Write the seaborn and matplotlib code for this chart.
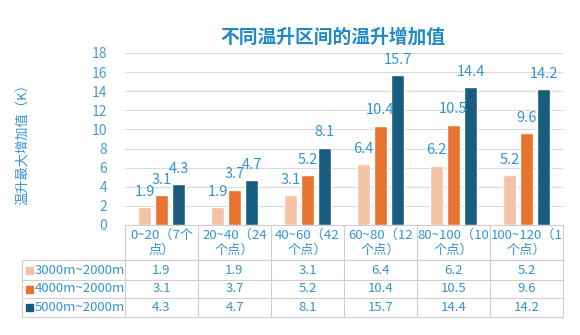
import matplotlib
matplotlib.use("Agg")
import matplotlib.pyplot as plt
import seaborn as sns
import pandas as pd
from matplotlib.patches import Rectangle
from matplotlib.lines import Line2D

categories = ["0~20（7个\n点）", "20~40（24\n个点）", "40~60（42\n个点）",
              "60~80（12\n个点）", "80~100（10\n个点）", "100~120（1\n个点）"]
series_names = ["3000m~2000m", "4000m~2000m", "5000m~2000m"]
s3000 = [1.9, 1.9, 3.1, 6.4, 6.2, 5.2]
s4000 = [3.1, 3.7, 5.2, 10.4, 10.5, 9.6]
s5000 = [4.3, 4.7, 8.1, 15.7, 14.4, 14.2]
yticks = [0, 2, 4, 6, 8, 10, 12, 14, 16, 18]
title = "不同温升区间的温升增加值"
ylabel = "温升最大增加值（K）"

colors = ["#f4c3a6", "#e8732f", "#185d80"]
txt = "#3594cf"
grid = "#d9d9d9"

sns.set_theme(style="white")
plt.rcParams["font.family"] = ["Noto Sans CJK SC", "DejaVu Sans"]

values = [s3000, s4000, s5000]
rows = []
for name, vals in zip(series_names, values):
    for c, v in zip(categories, vals):
        rows.append({"cat": c, "series": name, "val": v})
df = pd.DataFrame(rows)

W, H = 580, 335
fig = plt.figure(figsize=(W / 100, H / 100), dpi=100)
L, R, T, B = 125, 563, 53, 225
ax = fig.add_axes([L / W, 1 - B / H, (R - L) / W, (B - T) / H])

sns.barplot(data=df, x="cat", y="val", hue="series", order=categories,
            hue_order=series_names, palette=colors, width=0.7, gap=0.24,
            saturation=1, legend=False, ax=ax)

for cont in ax.containers:
    ax.bar_label(cont, fmt="%.1f", padding=6, color=txt, fontsize=10.5)

ax.set_ylim(0, 18)
ax.set_xlim(-0.5, len(categories) - 0.5)
ax.set_yticks(yticks)
ax.set_yticklabels([str(t) for t in yticks], color="#4a9ccf", fontsize=10)
ax.tick_params(axis="y", length=0, pad=13)
ax.set_xticks([])
ax.set_xlabel("")
ax.set_ylabel("")
ax.grid(axis="y", color=grid, linewidth=0.8)
ax.set_axisbelow(True)
for s in ["top", "right", "left", "bottom"]:
    ax.spines[s].set_visible(False)

fig.text(333 / W, 1 - 37 / H, title, ha="center", va="center",
         fontsize=13.5, fontweight="bold", color="#1f8ac4")
fig.text(23 / W, 1 - 141 / H, ylabel, ha="center", va="center",
         rotation=90, fontsize=9.5, color=txt)

# table
def fx(px):
    return px / W

def fy(py):
    return 1 - py / H

tl = 22
row_y = [225, 260, 280, 298, 317]
ncol = len(categories)
colw = (R - L) / ncol
col_x = [L + i * colw for i in range(ncol + 1)]

def line(x0, x1, y0, y1):
    fig.add_artist(Line2D([fx(x0), fx(x1)], [fy(y0), fy(y1)],
                          color="#cfcfcf", linewidth=0.8,
                          transform=fig.transFigure))

line(L, R, 225, 225)
for y in row_y[1:]:
    line(tl, R, y, y)
for x in col_x:
    line(x, x, 225, 317)
line(tl, tl, 260, 317)

for i, c in enumerate(categories):
    cx = (col_x[i] + col_x[i + 1]) / 2
    fig.text(fx(cx), fy(243), c, ha="center", va="center", fontsize=9.5,
             color=txt, linespacing=1.2)

for r, (name, vals, colr) in enumerate(zip(series_names, values, colors)):
    cy = (row_y[r + 1] + row_y[r + 2]) / 2
    fig.add_artist(Rectangle((fx(26), fy(cy + 3.5)), 7 / W, 7 / H,
                             color=colr, transform=fig.transFigure))
    fig.text(fx(34.5), fy(cy), name, ha="left", va="center", fontsize=9.5,
             color=txt)
    for i, v in enumerate(vals):
        cx = (col_x[i] + col_x[i + 1]) / 2
        fig.text(fx(cx), fy(cy), f"{v:.1f}", ha="center", va="center",
                 fontsize=9.5, color=txt)

fig.savefig("out.png", dpi=100)
